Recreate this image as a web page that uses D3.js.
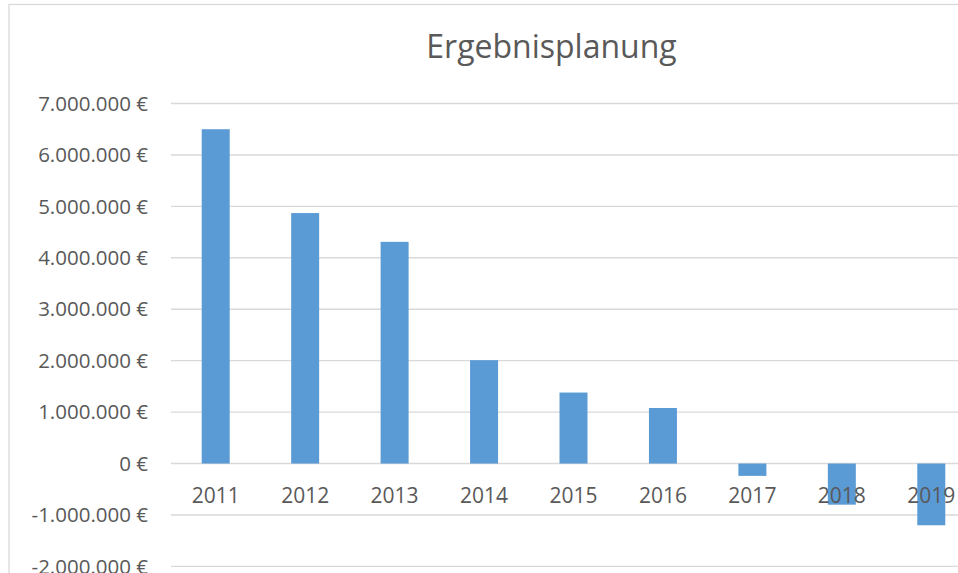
<!DOCTYPE html>
<html>
<head>
<meta charset="utf-8">
<script src="https://cdn.jsdelivr.net/npm/d3@7"></script>
<style>
    html, body { margin: 0; padding: 0; background: #fff; overflow: hidden; }
    text { font-family: "Open Sans", "Noto Sans", sans-serif; fill: #595959; }
</style>
</head>
<body>
<svg id="chart" width="958" height="573"></svg>
<script>
let years = ["2011", "2012", "2013", "2014", "2015", "2016", "2017", "2018", "2019"]
let results = [6500000, 4870000, 4310000, 2010000, 1380000, 1080000, -240000, -800000, -1200000]
let yTicks = [-2000000, -1000000, 0, 1000000, 2000000, 3000000, 4000000, 5000000, 6000000, 7000000]
let title = "Ergebnisplanung"

let de = d3.formatLocale({
    decimal: ",",
    thousands: ".",
    grouping: [3],
    currency: ["", " €"],
    minus: "-"
})
let euro = de.format("$,.0f")

let svg = d3.select("#chart")

// chart frame (cut off on the right and bottom like the screenshot)
svg.append("rect")
    .attr("x", 9)
    .attr("y", 4.5)
    .attr("width", 1100)
    .attr("height", 700)
    .attr("fill", "#fff")
    .attr("stroke", "#d9d9d9")
    .attr("stroke-width", 1.3)

let x = d3.scaleBand()
    .domain(years)
    .range([171, 976])
    .paddingInner(0.687)
    .paddingOuter(0.3435)

let y = d3.scaleLinear()
    .domain([-2000000, 7000000])
    .range([566.4, 103.5])

svg.append("g")
    .selectAll("line")
    .data(yTicks)
    .enter()
    .append("line")
    .attr("x1", 171)
    .attr("x2", 976)
    .attr("y1", d => y(d))
    .attr("y2", d => y(d))
    .attr("stroke", "#d9d9d9")
    .attr("stroke-width", 1.4)

svg.append("g")
    .selectAll("text")
    .data(yTicks)
    .enter()
    .append("text")
    .attr("x", 148)
    .attr("y", d => y(d))
    .attr("dy", "0.35em")
    .style("text-anchor", "end")
    .style("font-size", "20.5px")
    .text(d => euro(d))

svg.append("g")
    .selectAll("rect")
    .data(years)
    .enter()
    .append("rect")
    .attr("x", d => x(d))
    .attr("width", x.bandwidth())
    .attr("y", (d, i) => y(Math.max(0, results[i])))
    .attr("height", (d, i) => Math.abs(y(results[i]) - y(0)))
    .attr("fill", "#5b9bd5")

svg.append("g")
    .selectAll("text")
    .data(years)
    .enter()
    .append("text")
    .attr("x", d => x(d) + x.bandwidth() / 2)
    .attr("y", y(0) + 39)
    .style("text-anchor", "middle")
    .style("font-size", "21px")
    .text(d => d)

svg.append("text")
    .attr("x", 551.5)
    .attr("y", 58)
    .style("text-anchor", "middle")
    .style("font-size", "32px")
    .text(title)
</script>
</body>
</html>
